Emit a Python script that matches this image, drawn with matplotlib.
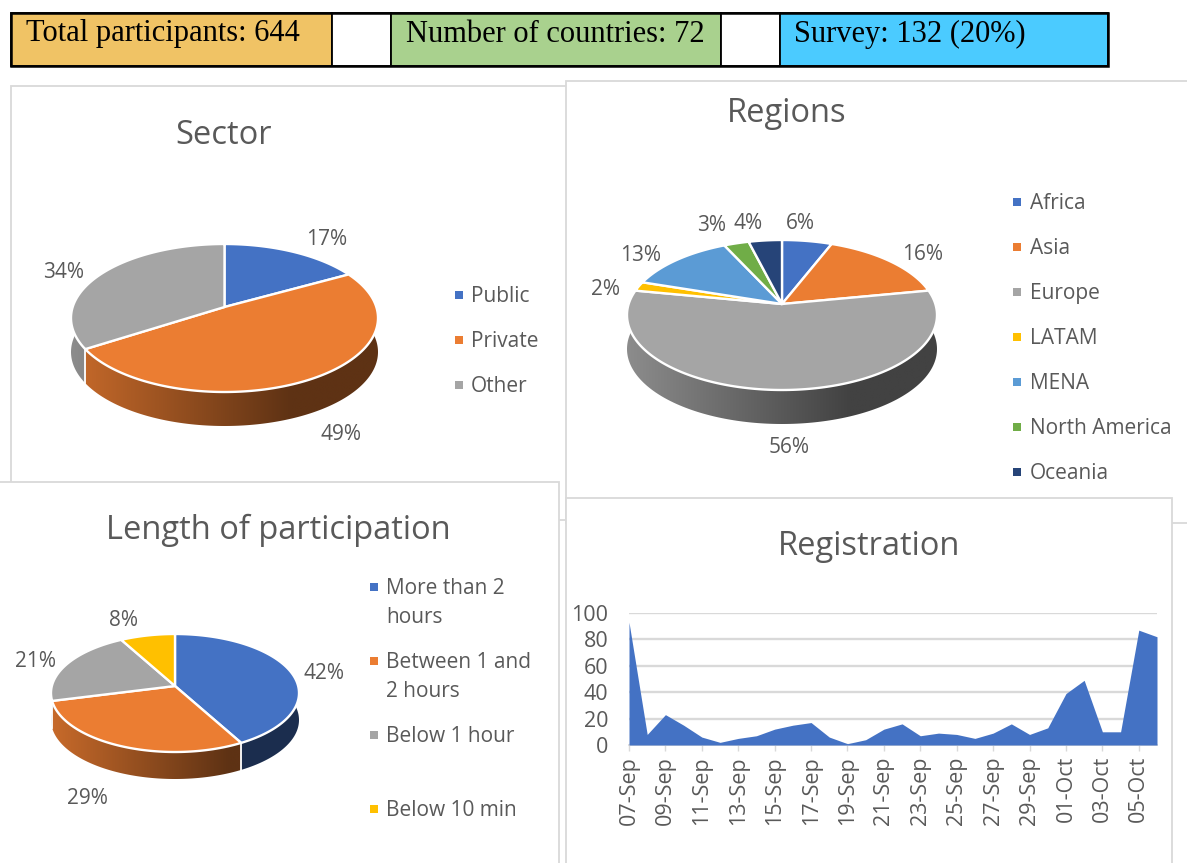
"""
Webinar participation dashboard: banner cells, three 3D-look pies and a registration area chart
"""
import numpy as np
import matplotlib
matplotlib.use('Agg')
import matplotlib.pyplot as plt
from matplotlib.patches import Rectangle, Polygon

W, H = 1187, 863

# ── Data ─────────────────────────────────────────────────────────────────────
banner_labels = ['Total participants: 644', 'Number of countries: 72', 'Survey: 132 (20%)']

sector_labels = ['Public', 'Private', 'Other']
sector_values = [17, 49, 34]

region_labels = ['Africa', 'Asia', 'Europe', 'LATAM', 'MENA', 'North America', 'Oceania']
region_values = [6, 16, 56, 2, 13, 3, 4]

length_labels = ['More than 2\nhours', 'Between 1 and\n2 hours', 'Below 1 hour', 'Below 10 min']
length_values = [42, 29, 21, 8]

reg_dates = ['07-Sep', '08-Sep', '09-Sep', '10-Sep', '11-Sep', '12-Sep', '13-Sep', '14-Sep',
             '15-Sep', '16-Sep', '17-Sep', '18-Sep', '19-Sep', '20-Sep', '21-Sep', '22-Sep',
             '23-Sep', '24-Sep', '25-Sep', '26-Sep', '27-Sep', '28-Sep', '29-Sep', '30-Sep',
             '01-Oct', '02-Oct', '03-Oct', '04-Oct', '05-Oct', '06-Oct']
reg_counts = [93, 8, 23, 15, 6, 2, 5, 7, 12, 15, 17, 6, 1, 4, 12, 16,
              7, 9, 8, 5, 9, 16, 8, 13, 39, 49, 10, 10, 87, 82]

# Office palette
BLUE, ORANGE, GRAY, YELLOW = '#4472C4', '#EB7D32', '#A5A5A5', '#FFC000'
LBLUE, GREEN, NAVY = '#5B9BD5', '#70AD47', '#264478'
TXT = '#595959'
TITLE_SIZE = 23.5
LABEL_SIZE = 15

plt.rcParams['font.family'] = ['Open Sans', 'DejaVu Sans']

fig = plt.figure(figsize=(W / 100, H / 100), dpi=100)
bg = fig.add_axes([0, 0, 1, 1])
bg.axis('off')


def panel(x0, y0, x1, y1):
    bg.add_patch(Rectangle((x0, y0), x1 - x0, y1 - y0, fc='white', ec='#D9D9D9', lw=1.3))


def project(theta, cx, cy, a, b, k):
    # perspective view of a flat disc; the apex lands on (cx, cy)
    X = np.sin(theta)
    Y = -np.cos(theta)
    d = 1 - k * Y
    return cx + a * X / d, cy + b * Y / d


def draw_pie(values, colors, cx, cy, top, bottom, left, right, depth, light=0.85, dark=0.40):
    far = cy - top
    near = bottom - cy
    k = (near - far) / (near + far)
    b = near * (1 - k)
    a = (right - left) / 2 * np.sqrt(1 - k ** 2)
    edges = np.cumsum([0] + list(values)) / sum(values) * 2 * np.pi

    # horizontal shade across the disc, dark from 72% of the width on
    pos = np.clip(np.linspace(0, 1, 256) / 0.72, 0, 1)
    ramp = light + (dark - light) * pos

    # side wall first, the top face hides its back half
    for i, col in enumerate(colors):
        t = np.linspace(edges[i], edges[i + 1], 200)
        x, y = project(t, cx, cy, a, b, k)
        rgb = np.array(matplotlib.colors.to_rgb(col))
        grad = (ramp[:, None] * rgb)[None, :, :]
        im = bg.imshow(grad, extent=(left, right, bottom + depth + 2, top), aspect='auto',
                       interpolation='bilinear', zorder=3)
        pts = list(zip(x, y)) + list(zip(x[::-1], y[::-1] + depth))
        clip = Polygon(pts, closed=True, transform=bg.transData)
        im.set_clip_path(clip)

    # white seams where slices meet on the near side
    for e in edges[:-1]:
        x, y = project(np.array([e]), cx, cy, a, b, k)
        if -np.cos(e) > 0.05:
            bg.plot([x[0], x[0]], [y[0], y[0] + depth], color='white', lw=1.3, zorder=3.5)

    # top face
    for i, col in enumerate(colors):
        t = np.linspace(edges[i], edges[i + 1], 200)
        x, y = project(t, cx, cy, a, b, k)
        pts = [(cx, cy)] + list(zip(x, y))
        bg.add_patch(Polygon(pts, closed=True, fc=col, ec='white', lw=1.7, joinstyle='round', zorder=4))


def legend(labels, colors, mx, tx, ys):
    for lab, col, y in zip(labels, colors, ys):
        bg.add_patch(Rectangle((mx - 4, y - 4), 8, 8, fc=col, ec='none', zorder=5))
        for n, line in enumerate(lab.split('\n')):
            bg.text(tx, y + 1 + n * 29, line, fontsize=LABEL_SIZE, color=TXT, va='center', ha='left', zorder=5)


def pct_labels(values, xs, ys):
    for v, px, py in zip(values, xs, ys):
        bg.text(px, py + 1, f'{v}%', fontsize=LABEL_SIZE, color=TXT, ha='center', va='center', zorder=5)


# ── Banner ───────────────────────────────────────────────────────────────────
cells = [(11, 332, '#F0C365'), (332, 391, 'white'), (391, 721, '#A9D18E'),
         (721, 780, 'white'), (780, 1108, '#4BCBFF')]
for x0, x1, col in cells:
    bg.add_patch(Rectangle((x0, 13), x1 - x0, 53, fc=col, ec='black', lw=1.3))
bg.add_patch(Rectangle((11, 13), 1097, 53, fc='none', ec='black', lw=1.8))
for lab, px in zip(banner_labels, [26, 406, 794]):
    bg.text(px, 34, lab, fontsize=22, family=['Liberation Serif'], color='black', va='center', ha='left')

# ── Panels, back to front ────────────────────────────────────────────────────
panel(11, 86, 600, 520)
panel(566, 81, 1200, 523)
panel(-5, 482, 559, 870)
panel(566, 498, 1172, 870)

# ── Sector ───────────────────────────────────────────────────────────────────
bg.text(224, 135, 'Sector', fontsize=TITLE_SIZE, color=TXT, ha='center', va='center')
sector_colors = [BLUE, ORANGE, GRAY]
draw_pie(sector_values, sector_colors, 224.5, 307, 244, 392, 71, 378, 34)
pct_labels(sector_values, [327, 341, 64], [238, 433, 271])
legend(sector_labels, sector_colors, 459, 471, [295, 340, 385])

# ── Regions ──────────────────────────────────────────────────────────────────
bg.text(787, 113, 'Regions', fontsize=TITLE_SIZE, color=TXT, ha='center', va='center')
region_colors = [BLUE, ORANGE, GRAY, YELLOW, LBLUE, GREEN, NAVY]
draw_pie(region_values, region_colors, 782, 304, 240, 390, 627, 937, 34)
pct_labels(region_values, [800, 923, 789, 606, 641, 712, 748], [222, 253, 446, 288, 254, 224, 222])
legend(region_labels, region_colors, 1017, 1030, [202, 247, 292, 337, 382, 427, 472])

# ── Length of participation ──────────────────────────────────────────────────
bg.text(278, 530, 'Length of participation', fontsize=TITLE_SIZE, color=TXT, ha='center', va='center')
length_colors = [BLUE, ORANGE, GRAY, YELLOW]
draw_pie(length_values, length_colors, 175, 686, 634, 752, 51, 299, 27)
pct_labels(length_values, [324, 87, 35, 124], [672, 797, 660, 619])
legend(length_labels, length_colors, 374, 386, [587, 661, 735, 809])

bg.set_xlim(0, W)
bg.set_ylim(H, 0)

# ── Registration ─────────────────────────────────────────────────────────────
bg.text(869, 546, 'Registration', fontsize=TITLE_SIZE, color=TXT, ha='center', va='center')
ax = fig.add_axes([629 / W, 1 - 745 / H, (1157 - 629) / W, (745 - 613) / H])
ax.patch.set_alpha(0)
x = np.arange(len(reg_counts))
ax.fill_between(x, reg_counts, 0, color=BLUE, lw=0, zorder=3)
ax.set_xlim(0, len(reg_counts) - 1)
ax.set_ylim(0, 100)
ax.set_yticks(range(0, 101, 20))
ax.yaxis.grid(True, color='#D9D9D9', lw=1.7, zorder=0)
ax.set_axisbelow(True)
ax.set_xticks(x[::2])
ax.set_xticklabels(reg_dates[::2], rotation=90)
ax.tick_params(axis='y', length=0, labelsize=15.5, labelcolor=TXT, pad=15)
ax.tick_params(axis='x', length=4, width=1, color='#D9D9D9', labelsize=15.5, labelcolor=TXT, pad=4)
for s in ['top', 'right', 'left']:
    ax.spines[s].set_visible(False)
ax.spines['bottom'].set_color('#D9D9D9')
ax.spines['bottom'].set_linewidth(1.3)

plt.savefig('out.png', dpi=100)
plt.close()
